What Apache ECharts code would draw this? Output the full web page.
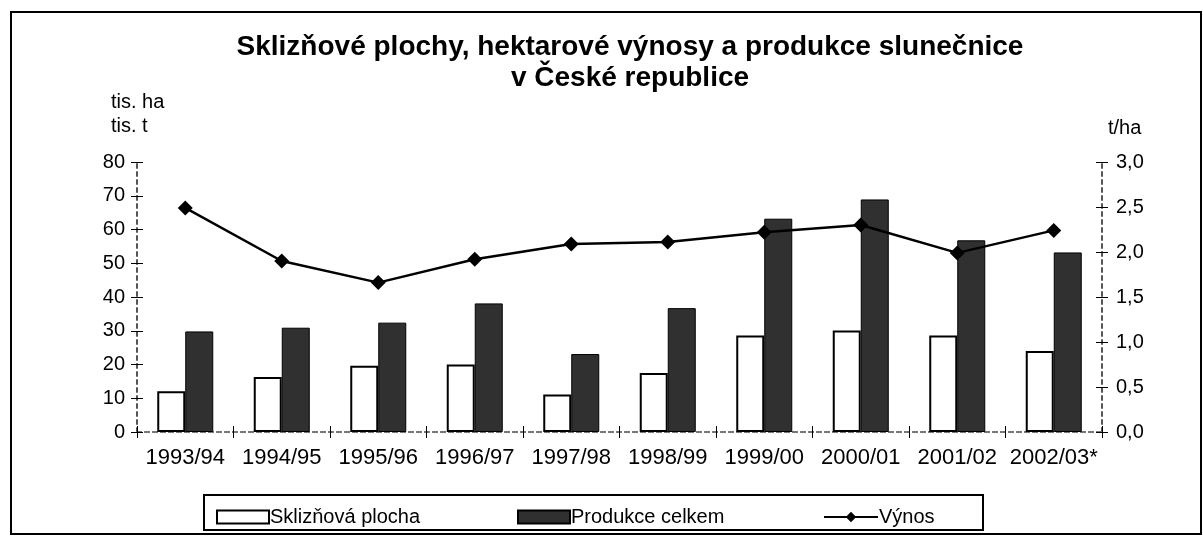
<!DOCTYPE html>
<html>
<head>
<meta charset="utf-8">
<script src="https://cdn.jsdelivr.net/npm/echarts@6/dist/echarts.min.js"></script>
<style>
  body { margin: 0; background: #fff; }
  #chart { width: 1203px; height: 536px; }
</style>
</head>
<body>
<div id="chart"></div>
<script>
// data
const seasons = ['1993/94', '1994/95', '1995/96', '1996/97', '1997/98', '1998/99', '1999/00', '2000/01', '2001/02', '2002/03*'];
const plocha = [12.1, 16.3, 19.6, 20.0, 11.1, 17.5, 28.6, 30.1, 28.6, 24.0];     // tis. ha
const produkce = [29.8, 30.9, 32.4, 38.1, 23.1, 36.7, 63.2, 68.9, 56.8, 53.2];  // tis. t
const vynos = [2.49, 1.90, 1.66, 1.92, 2.09, 2.11, 2.22, 2.30, 1.99, 2.24];     // t/ha
const leftTicks = { min: 0, max: 80, step: 10 };
const rightTicks = { min: 0, max: 3, step: 0.5 };

const chart = echarts.init(document.getElementById('chart'));
const font = 'Liberation Sans, Arial, sans-serif';

const dashed = { color: '#555', type: [4, 4], width: 2 };
const tick = { show: true, length: 6, lineStyle: { color: '#000', width: 1 } };
const legendText = { fontFamily: font, fontSize: 20, color: '#000', padding: [0, 0, 0, -4] };

const option = {
    animation: false,
    textStyle: { fontFamily: font, color: '#000' },
    title: {
        text: 'Sklizňové plochy, hektarové výnosy a produkce slunečnice\nv České republice',
        left: 625,
        textAlign: 'center',
        top: 27,
        textStyle: { fontFamily: font, fontSize: 28, fontWeight: 'bold', color: '#000', lineHeight: 31 }
    },
    grid: { left: 137, right: 101, top: 162, bottom: 104 },
    legend: [
        { data: ['Sklizňová plocha'], icon: 'rect', left: 211, top: 502, itemWidth: 52, itemHeight: 13, textStyle: legendText },
        { data: ['Produkce celkem'], icon: 'rect', left: 512, top: 502, itemWidth: 52, itemHeight: 13, textStyle: legendText },
        { data: ['Výnos'], left: 818, top: 502, itemWidth: 54, itemHeight: 13, textStyle: legendText }
    ],
    graphic: [
        { type: 'rect', shape: { x: 11, y: 12, width: 1190, height: 522 }, style: { fill: null, stroke: '#000', lineWidth: 2 }, silent: true },
        { type: 'rect', shape: { x: 204, y: 495, width: 779, height: 35 }, style: { fill: null, stroke: '#000', lineWidth: 2 }, silent: true },
        { type: 'text', left: 111, top: 90, style: { text: 'tis. ha\ntis. t', font: '20px ' + font, lineHeight: 24, fill: '#000' } }
    ],
    xAxis: [
        {
            type: 'category', data: seasons, position: 'bottom',
            axisLine: { lineStyle: dashed },
            axisTick: tick,
            axisLabel: { fontSize: 22, color: '#000', margin: 15, interval: 0 }
        },
        {
            type: 'category', data: seasons, position: 'top',
            axisLine: { lineStyle: { color: '#777', type: [4, 4], width: 2 } },
            axisTick: { show: false }, axisLabel: { show: false }
        },
        {
            type: 'category', data: seasons, position: 'bottom',
            axisLine: { show: false },
            axisTick: { show: true, inside: true, length: 6, lineStyle: { color: '#000' } },
            axisLabel: { show: false }
        }
    ],
    yAxis: [
        {
            type: 'value', min: leftTicks.min, max: leftTicks.max, interval: leftTicks.step,
            axisLine: { show: true, lineStyle: dashed },
            axisTick: tick,
            axisLabel: { fontSize: 20, color: '#000', margin: 12 },
            splitLine: { show: false }
        },
        {
            type: 'value', min: rightTicks.min, max: rightTicks.max, interval: rightTicks.step,
            position: 'right',
            axisLine: { show: true, lineStyle: dashed },
            axisTick: tick,
            axisLabel: { fontSize: 20, color: '#000', margin: 14, formatter: v => v.toFixed(1).replace('.', ',') },
            name: 't/ha', nameLocation: 'end', nameGap: 24,
            nameTextStyle: { fontSize: 20, color: '#000', align: 'left', padding: [0, 0, 0, 6] },
            splitLine: { show: false }
        },
        {
            type: 'value', min: leftTicks.min, max: leftTicks.max, interval: leftTicks.step,
            position: 'left',
            axisLine: { show: false },
            axisTick: { show: true, inside: true, length: 6, lineStyle: { color: '#000' } },
            axisLabel: { show: false }, splitLine: { show: false }
        },
        {
            type: 'value', min: rightTicks.min, max: rightTicks.max, interval: rightTicks.step,
            position: 'right',
            axisLine: { show: false },
            axisTick: { show: true, inside: true, length: 6, lineStyle: { color: '#000' } },
            axisLabel: { show: false }, splitLine: { show: false }
        }
    ],
    series: [
        {
            name: 'Sklizňová plocha', type: 'bar', data: plocha,
            barWidth: 28, barGap: '0%',
            itemStyle: { color: '#fff', borderColor: '#000', borderWidth: 2 }
        },
        {
            name: 'Produkce celkem', type: 'bar', data: produkce,
            barWidth: 28, barGap: '0%',
            itemStyle: { color: '#303030', borderColor: '#000', borderWidth: 1 }
        },
        {
            name: 'Výnos', type: 'line', yAxisIndex: 1, data: vynos,
            symbol: 'diamond', symbolSize: 15,
            lineStyle: { color: '#000', width: 2.5 },
            itemStyle: { color: '#000' }
        }
    ]
};

chart.setOption(option);
</script>
</body>
</html>
